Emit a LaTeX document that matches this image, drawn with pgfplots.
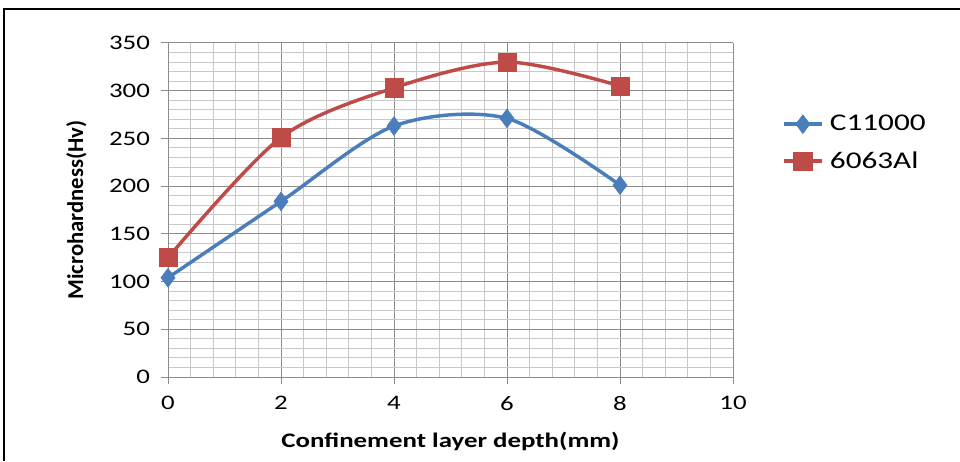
\documentclass[border=0pt]{standalone}
\usepackage{pgfplots}
\pgfplotsset{compat=1.18}
\usepackage{fontspec}
\setmainfont{Carlito}[FakeStretch=1.3]
\newfontfamily\ylabfont{Carlito}
\definecolor{cblue}{HTML}{4A7EBB}
\definecolor{cred}{HTML}{BE4B48}
\definecolor{gmaj}{HTML}{8C8C8C}
\definecolor{gmin}{HTML}{C8C8C8}
\begin{document}
\begin{tikzpicture}[x=0.75pt,y=0.75pt]
\useasboundingbox (0,0) rectangle (960,461);
\draw[line width=2.2pt] (4,0) -- (4,452) -- (960,452);
\begin{axis}[
  at={(168pt*0.75,84pt*0.75)}, anchor=origin,
  scale only axis,
  width=423.75pt, height=250.5pt,
  xmin=0, xmax=10, ymin=0, ymax=350,
  xtick={0,2,...,10}, ytick={0,50,...,350},
  minor x tick num=4, minor y tick num=4,
  grid=both,
  major grid style={gmaj, line width=0.75pt},
  minor grid style={gmin, line width=0.75pt},
  axis x line*=bottom, axis y line*=left,
  axis line style={gmaj, line width=0.75pt, -},
  tick style={gmaj, line width=0.75pt},
  minor tick length=0pt,
  major tick length=5pt,
  tick align=outside,
  every tick label/.append style={font=\fontsize{15.5}{16}\selectfont, text=black},
  /pgf/number format/assume math mode=true,
  xticklabel style={yshift=-6pt},
  yticklabel style={xshift=-5pt},
  xlabel={\textbf{Confinement layer depth(mm)}},
  ylabel={\ylabfont\bfseries Microhardness(Hv)},
  label style={font=\fontsize{15.5}{16}\selectfont},
  ylabel style={font=\fontsize{17}{18}\selectfont},
  xlabel style={yshift=-9pt},
  ylabel style={yshift=10pt},
  clip=false,
  legend style={at={(1.08,0.80)}, anchor=north west, draw=none, fill=none,
    font=\fontsize{18}{19}\selectfont, row sep=10pt},
  legend cell align=left,
  legend image code/.code={
    \draw[#1] (0pt,0pt) -- (28pt,0pt);
    \draw[#1, only marks] plot coordinates {(14pt,0pt)};
    \path (31pt,0pt);
  },
]
\addplot[cblue, line width=2.6pt, smooth, tension=0.5, mark=diamond*, mark size=7pt,
  mark options={fill=cblue, draw=cblue, line width=0.5pt}]
  coordinates {(0,104) (2,184) (4,263) (6,271) (8,201)};
\addlegendentry{C11000}
\addplot[cred, line width=2.6pt, smooth, tension=0.5, mark=square*, mark size=6.8pt,
  mark options={fill=cred, draw=cred, line width=0.5pt}]
  coordinates {(0,125) (2,251) (4,303) (6,330) (8,305)};
\addlegendentry{6063Al}
\end{axis}
\end{tikzpicture}
\end{document}
